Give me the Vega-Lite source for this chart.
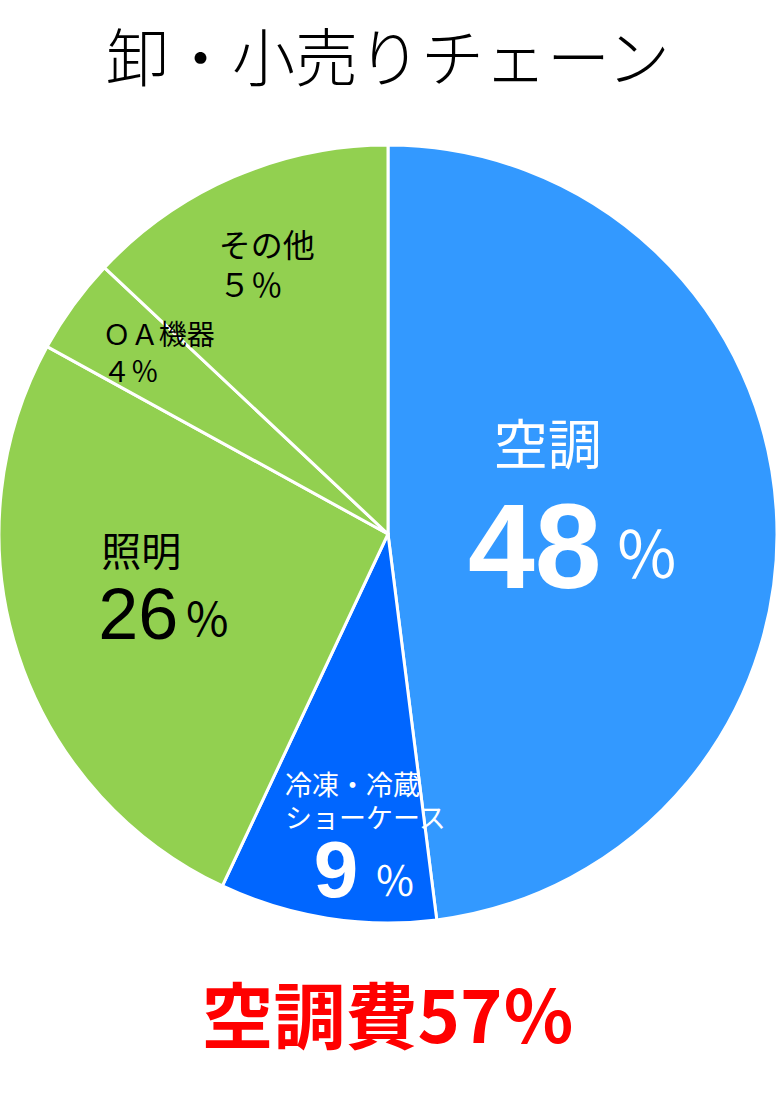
{
  "$schema": "https://vega.github.io/schema/vega-lite/v6.json",
  "padding": {"top": 31, "left": -7, "right": 0, "bottom": 0},
  "title": {
    "text": "卸・小売りチェーン",
    "font": "Noto Sans CJK JP",
    "fontSize": 63,
    "fontWeight": 300,
    "color": "black",
    "anchor": "middle",
    "offset": -1
  },
  "vconcat": [
    {
      "width": 778,
      "height": 882,
      "title": {
        "text": "空調費57％",
        "orient": "bottom",
        "font": "Noto Sans CJK JP",
        "fontSize": 72,
        "fontWeight": "bold",
        "color": "#ff0000",
        "anchor": "middle",
        "offset": 11
      },
      "data": {
        "values": [
          {"name": "空調", "value": 48, "order": 1, "label": "空調", "num": "48"},
          {"name": "冷凍・冷蔵ショーケース", "value": 9, "order": 2, "label": "冷凍・冷蔵\nショーケース", "num": "9"},
          {"name": "照明", "value": 26, "order": 3, "label": "照明", "num": "26"},
          {"name": "OA機器", "value": 4, "order": 4, "label": "ＯＡ機器\n４％", "num": "4"},
          {"name": "その他", "value": 13, "order": 5, "label": "その他\n５％", "num": "5"}
        ]
      },
      "encoding": {
        "theta": {"field": "value", "type": "quantitative", "stack": true},
        "order": {"field": "order", "type": "quantitative"}
      },
      "layer": [
        {
          "mark": {"type": "arc", "outerRadius": 389, "stroke": "white", "strokeWidth": 3},
          "encoding": {
            "color": {
              "field": "name",
              "type": "nominal",
              "scale": {
                "domain": ["空調", "冷凍・冷蔵ショーケース", "照明", "OA機器", "その他"],
                "range": ["#3399ff", "#0066ff", "#92d050", "#92d050", "#92d050"]
              },
              "legend": null
            }
          }
        },
        {
          "mark": {"type": "text", "radius": 160, "dx": 0, "dy": -75, "font": "Noto Sans CJK JP", "fontSize": 54, "color": "white"},
          "encoding": {"text": {"condition": {"test": "datum.name === '空調'", "field": "label"}, "value": ""}}
        },
        {
          "mark": {"type": "text", "radius": 160, "dx": -13, "dy": 28, "font": "Liberation Sans", "fontSize": 120, "fontWeight": "bold", "color": "white"},
          "encoding": {"text": {"condition": {"test": "datum.name === '空調'", "field": "num"}, "value": ""}}
        },
        {
          "mark": {"type": "text", "radius": 160, "dx": 99, "dy": 35, "font": "Noto Sans CJK JP", "fontSize": 64, "color": "white"},
          "encoding": {"text": {"condition": {"test": "datum.name === '空調'", "value": "％"}, "value": ""}}
        },
        {
          "mark": {"type": "text", "radius": 300, "align": "left", "dx": -56, "dy": -43, "lineBreak": "\n", "lineHeight": 33, "font": "Noto Sans CJK JP", "fontSize": 27, "color": "white"},
          "encoding": {"text": {"condition": {"test": "datum.order === 2", "field": "label"}, "value": ""}}
        },
        {
          "mark": {"type": "text", "radius": 300, "dx": -5, "dy": 43, "font": "Liberation Sans", "fontSize": 80, "fontWeight": "bold", "color": "white"},
          "encoding": {"text": {"condition": {"test": "datum.order === 2", "field": "num"}, "value": ""}}
        },
        {
          "mark": {"type": "text", "radius": 300, "dx": 54, "dy": 54, "font": "Noto Sans CJK JP", "fontSize": 41, "color": "white"},
          "encoding": {"text": {"condition": {"test": "datum.order === 2", "value": "％"}, "value": ""}}
        },
        {
          "mark": {"type": "text", "radius": 230, "dx": -28, "dy": -51, "font": "Noto Sans CJK JP", "fontSize": 40, "color": "black"},
          "encoding": {"text": {"condition": {"test": "datum.name === '照明'", "field": "label"}, "value": ""}}
        },
        {
          "mark": {"type": "text", "radius": 230, "dx": -31, "dy": 12, "font": "Liberation Sans", "fontSize": 72, "color": "black"},
          "encoding": {"text": {"condition": {"test": "datum.name === '照明'", "field": "num"}, "value": ""}}
        },
        {
          "mark": {"type": "text", "radius": 230, "dx": 38, "dy": 17, "font": "Noto Sans CJK JP", "fontSize": 46, "color": "black"},
          "encoding": {"text": {"condition": {"test": "datum.name === '照明'", "value": "％"}, "value": ""}}
        },
        {
          "mark": {"type": "text", "radius": 250, "align": "left", "dx": -83, "dy": -50, "lineBreak": "\n", "lineHeight": 37, "font": "Noto Sans CJK JP", "fontSize": 28, "color": "black"},
          "encoding": {"text": {"condition": {"test": "datum.order === 4", "field": "label"}, "value": ""}}
        },
        {
          "mark": {"type": "text", "radius": 280, "align": "left", "dx": -58, "dy": -30, "lineBreak": "\n", "lineHeight": 40, "font": "Noto Sans CJK JP", "fontSize": 32, "color": "black"},
          "encoding": {"text": {"condition": {"test": "datum.order === 5", "field": "label"}, "value": ""}}
        }
      ]
    }
  ],
  "config": {
    "view": {"stroke": null},
    "concat": {"spacing": 0}
  }
}
